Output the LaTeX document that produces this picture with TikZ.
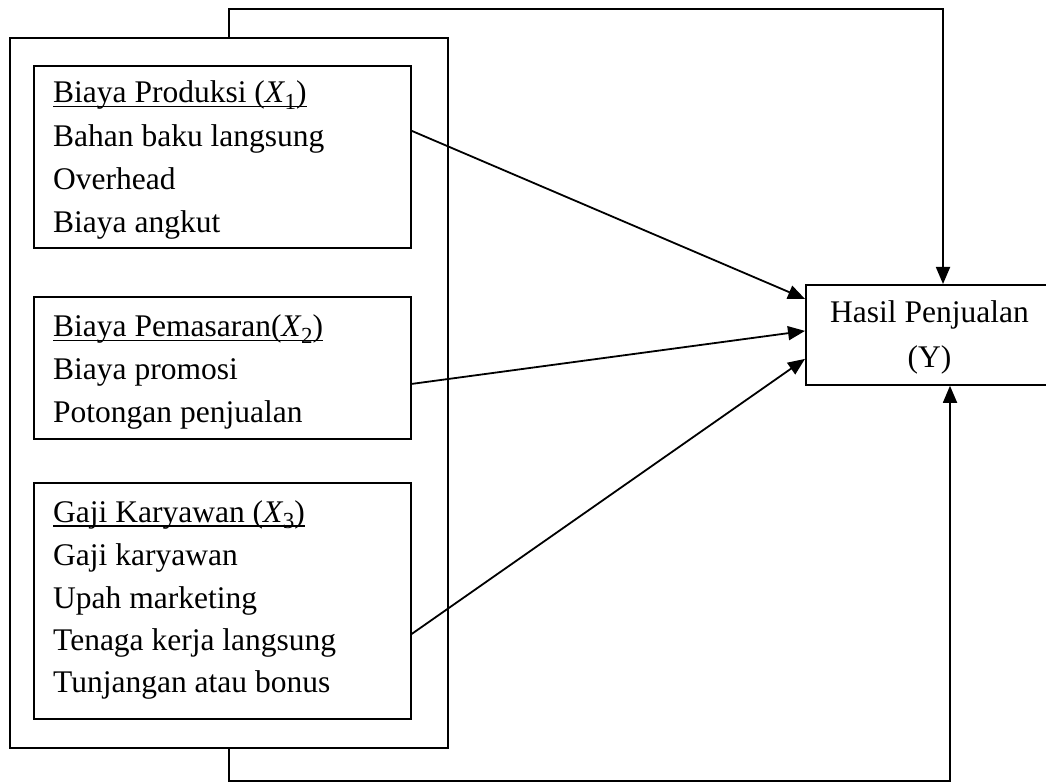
\documentclass[tikz,border=0pt]{standalone}
\usepackage{fontspec}
\setmainfont{Liberation Serif}
\usetikzlibrary{arrows.meta}
\newcommand\myul[1]{\setbox0\hbox{#1}\rlap{\rule[-4.5pt]{\wd0}{1.6pt}}\box0}
\newcommand\myvar[1]{{\itshape X\kern0.5pt}\raisebox{-0.22em}{\fontsize{23}{23}\selectfont #1}}
\begin{document}
\begin{tikzpicture}[x=1pt,y=-1pt,
  boxstyle/.style={draw,line width=1.8pt,rectangle,inner sep=0pt,anchor=north west},
  txt/.style={inner sep=0pt,anchor=base west,font=\fontsize{31.5}{43}\selectfont},
  ytxt/.style={inner sep=0pt,anchor=base,font=\fontsize{31.5}{43}\selectfont},
  arr/.style={line width=1.8pt,-{Triangle[length=17pt,width=14pt]}}]
\useasboundingbox (0,0) rectangle (1046,783);
\clip (0,0) rectangle (1046,783);
\fill[white] (0,0) rectangle (1046,783);
% boxes
\node[boxstyle,minimum width=438pt,minimum height=710pt] (outer) at (9,37) {};
\node[boxstyle,minimum width=377pt,minimum height=182pt] (b1) at (33,65) {};
\node[boxstyle,minimum width=377pt,minimum height=142pt] (b2) at (33,296) {};
\node[boxstyle,minimum width=377pt,minimum height=236pt] (b3) at (33,482) {};
\node[boxstyle,minimum width=250pt,minimum height=100pt] (Y) at (805,284) {};
% texts box 1
\node[txt] (t11) at (53,103) {\myul{Biaya Produksi (\myvar{1})}};
\node[txt] (t12) at (53,147) {Bahan baku langsung};
\node[txt] (t13) at (53,190) {Overhead};
\node[txt] (t14) at (53,233) {Biaya angkut};
% texts box 2
\node[txt] (t21) at (53,337) {\myul{Biaya Pemasaran(\myvar{2})}};
\node[txt] (t22) at (53,379) {Biaya promosi};
\node[txt] (t23) at (53,422) {Potongan penjualan};
% texts box 3
\node[txt] (t31) at (53,522) {\myul{Gaji Karyawan (\myvar{3})}};
\node[txt] (t32) at (53,565) {Gaji karyawan};
\node[txt] (t33) at (53,608) {Upah marketing};
\node[txt] (t34) at (53,650) {Tenaga kerja langsung};
\node[txt] (t35) at (53,692) {Tunjangan atau bonus};
% Y text
\node[ytxt] (y1) at (929.5,323) {Hasil Penjualan};
\node[ytxt] (y2) at (929.5,367) {(Y)};
% connectors
\draw[arr] ([yshift=26pt]b1.east) -- ([yshift=36pt]Y.west);
\draw[arr] ([yshift=-16pt]b2.east) -- ([yshift=4pt]Y.west);
\draw[arr] ([yshift=-33pt]b3.east) -- ([yshift=-24pt]Y.west);
\coordinate (tr) at (943,9);
\coordinate (br) at (950,781);
\draw[arr] (outer.north) |- (tr) -- (Y.north -| tr);
\draw[arr] (outer.south) |- (br) -- (Y.south -| br);
\end{tikzpicture}
\end{document}
